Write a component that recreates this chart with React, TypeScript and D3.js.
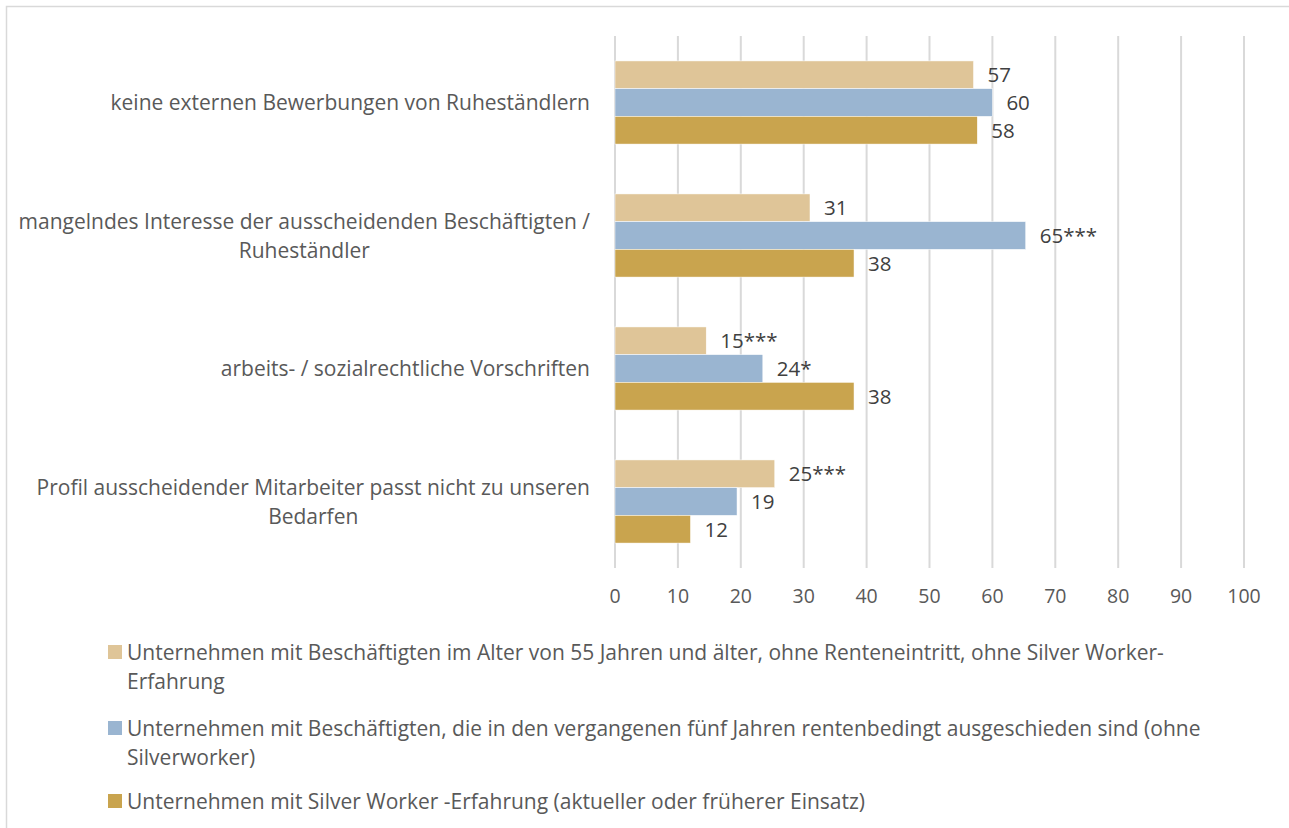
import React, { useEffect, useRef } from 'react'
import * as d3 from 'd3'

const categories = [
  ['keine externen Bewerbungen von Ruheständlern'],
  ['mangelndes Interesse der ausscheidenden Beschäftigten /', 'Ruheständler'],
  ['arbeits- / sozialrechtliche Vorschriften'],
  ['Profil ausscheidender Mitarbeiter passt nicht zu unseren', 'Bedarfen'],
]
const seriesNames = [
  ['Unternehmen mit Beschäftigten im Alter von 55 Jahren und älter, ohne Renteneintritt, ohne Silver Worker-', 'Erfahrung'],
  ['Unternehmen mit Beschäftigten, die in den vergangenen fünf Jahren rentenbedingt ausgeschieden sind (ohne', 'Silverworker)'],
  ['Unternehmen mit Silver Worker -Erfahrung (aktueller oder früherer Einsatz)'],
]
const colors = ['#dfc598', '#9ab5d1', '#c9a44e']
const values = [
  [57, 31, 14.5, 25.4],
  [60, 65.3, 23.5, 19.4],
  [57.6, 38, 38, 12],
]
const labels = [
  ['57', '31', '15***', '25***'],
  ['60', '65***', '24*', '19'],
  ['58', '38', '38', '12'],
]
const ticks = [0, 10, 20, 30, 40, 50, 60, 70, 80, 90, 100]

const W = 1289
const H = 828
const FONT = '"Open Sans", sans-serif'
const FS = 21

export default function App() {
  const ref = useRef<SVGSVGElement>(null)
  useEffect(() => {
    const svg = d3.select(ref.current)
    svg.selectAll('*').remove()

    svg.append('rect').attr('x', 6.5).attr('y', 6.5).attr('width', W).attr('height', H)
      .attr('fill', '#fff').attr('stroke', '#d9d9d9').attr('stroke-width', 1.5)

    const x = d3.scaleLinear().domain([0, 100]).range([615, 1244])
    const y = d3.scaleBand().domain(categories.map((_, i) => String(i))).range([36, 568]).paddingInner(0.375).paddingOuter(0.1875)
    const sub = d3.scaleBand().domain(['0', '1', '2']).range([0, y.bandwidth()])

    const grid = svg.append('g')
    grid.selectAll('line').data(ticks).join('line')
      .attr('x1', d => x(d)).attr('x2', d => x(d)).attr('y1', 36).attr('y2', 568)
      .attr('stroke', '#d9d9d9').attr('stroke-width', 2)

    grid.selectAll('text').data(ticks).join('text')
      .attr('x', d => x(d)).attr('y', 596).attr('text-anchor', 'middle').attr('dy', '0.36em')
      .attr('font-family', FONT).attr('font-size', 19.5).attr('fill', '#595959')
      .text(d => d)

    values.forEach((vals, s) => {
      const g = svg.append('g')
      g.selectAll('rect').data(vals).join('rect')
        .attr('x', x(0)).attr('y', (_, i) => y(String(i))! + sub(String(s))!)
        .attr('width', d => x(d) - x(0)).attr('height', sub.bandwidth())
        .attr('fill', colors[s]).attr('stroke', '#fff').attr('stroke-width', 0.5)
      g.selectAll('text').data(vals).join('text')
        .attr('x', d => x(d) + 14).attr('y', (_, i) => y(String(i))! + sub(String(s))! + sub.bandwidth() / 2)
        .attr('dy', '0.36em')
        .attr('font-family', FONT).attr('font-size', 20.5).attr('fill', '#404040')
        .text((_, i) => labels[s][i])
    })

    categories.forEach((lines, i) => {
      const cy = y(String(i))! + y.bandwidth() / 2
      const t = svg.append('text').attr('font-family', FONT).attr('font-size', FS).attr('fill', '#595959')
      lines.forEach((line, j) => {
        t.append('tspan').attr('y', cy + (j - (lines.length - 1) / 2) * 29).attr('dy', '0.36em').text(line)
      })
      const spans = t.selectAll<SVGTSpanElement, unknown>('tspan').nodes()
      const maxW = d3.max(spans, n => n.getComputedTextLength()) || 0
      t.attr('text-anchor', 'middle')
      t.selectAll('tspan').attr('x', 590 - maxW / 2)
    })

    const legY = [652, 728, 801]
    seriesNames.forEach((lines, s) => {
      svg.append('rect').attr('x', 108).attr('y', legY[s] - 7).attr('width', 14).attr('height', 14).attr('fill', colors[s])
      const t = svg.append('text').attr('font-family', FONT).attr('font-size', FS).attr('fill', '#595959')
      lines.forEach((line, j) => {
        t.append('tspan').attr('x', 127).attr('y', legY[s] + j * 29).attr('dy', '0.36em').text(line)
      })
    })
  }, [])
  return <svg ref={ref} width={W} height={H} style={{ position: 'absolute', left: 0, top: 0 }} />
}
